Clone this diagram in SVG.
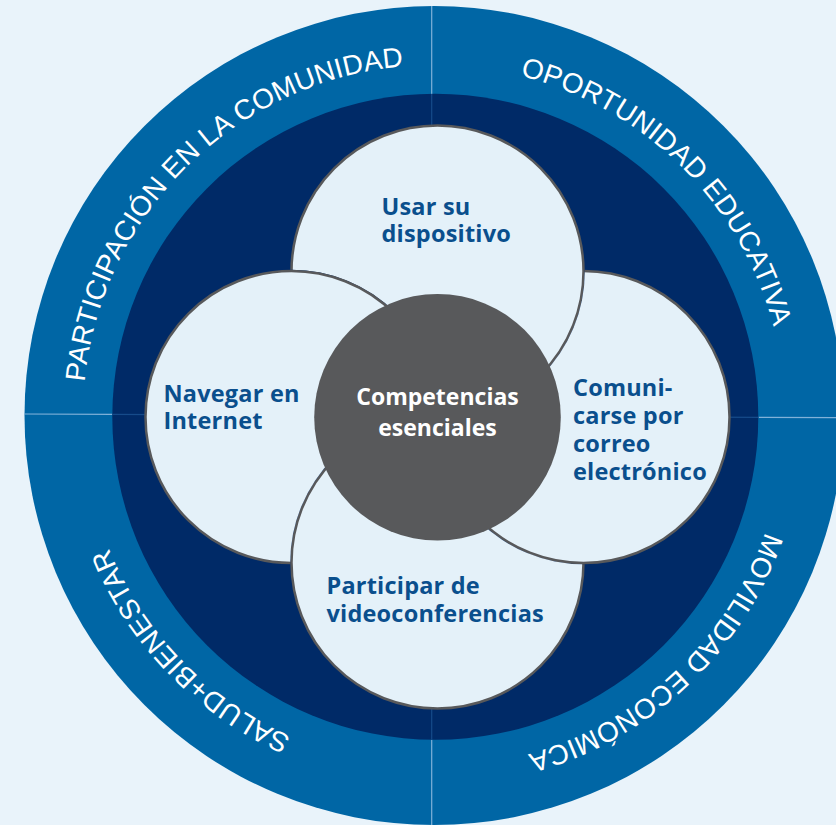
<svg xmlns="http://www.w3.org/2000/svg" xmlns:xlink="http://www.w3.org/1999/xlink" width="836" height="825" viewBox="0 0 836 825">
  <style>
    .ring-text { font-family: "Liberation Sans", Arial, sans-serif; font-size: 28px; fill: #ffffff; letter-spacing: 0.2px; }
    .petal { fill: #e4f1f9; stroke: #58595b; stroke-width: 2.5; }
    .petal-text { font-family: "Open Sans", "Liberation Sans", sans-serif; font-weight: 700; font-size: 23.5px; letter-spacing: 0.2px; fill: #0a4f8d; }
    .core-text { font-family: "Open Sans", "Liberation Sans", sans-serif; font-weight: 700; font-size: 23px; fill: #ffffff; text-anchor: middle; }
    .div-light { stroke: #80b2d9; stroke-width: 1.2; }
    .div-dark { stroke: #164b8a; stroke-width: 1.2; }
  </style>
  <defs>
    <path id="ringPath" d="M 434 65 A 351 351 0 1 1 434 767 A 351 351 0 1 1 434 65"/>
    <mask id="notL" maskUnits="userSpaceOnUse" x="0" y="0" width="836" height="825">
      <rect width="836" height="825" fill="#fff"/>
      <circle cx="291.5" cy="417" r="147.3" fill="#000"/>
    </mask>
    <mask id="notT" maskUnits="userSpaceOnUse" x="0" y="0" width="836" height="825">
      <rect width="836" height="825" fill="#fff"/>
      <circle cx="437.5" cy="271.5" r="147.3" fill="#000"/>
    </mask>
    <mask id="notR" maskUnits="userSpaceOnUse" x="0" y="0" width="836" height="825">
      <rect width="836" height="825" fill="#fff"/>
      <circle cx="583.5" cy="417" r="147.3" fill="#000"/>
    </mask>
    <mask id="notB" maskUnits="userSpaceOnUse" x="0" y="0" width="836" height="825">
      <rect width="836" height="825" fill="#fff"/>
      <circle cx="437.5" cy="562.5" r="147.3" fill="#000"/>
    </mask>
  </defs>

  <rect width="836" height="825" fill="#e9f3fa"/>

  <g id="outer-ring">
    <circle cx="434" cy="415.5" r="409.5" fill="#0066a5"/>
    <line class="div-light" x1="431.7" y1="6" x2="431.7" y2="94"/>
    <line class="div-light" x1="431.7" y1="739.5" x2="431.7" y2="825"/>
    <line class="div-light" x1="24.5" y1="414" x2="112.5" y2="414.4"/>
    <line class="div-light" x1="758.5" y1="417.3" x2="843" y2="417.7"/>
  </g>

  <g id="inner-ring">
    <circle cx="435.3" cy="416.8" r="323" fill="#002a67"/>
    <line class="div-dark" x1="431.7" y1="94" x2="431.7" y2="140"/>
    <line class="div-dark" x1="431.7" y1="700" x2="431.7" y2="739.5"/>
    <line class="div-dark" x1="112.5" y1="414.4" x2="160" y2="414.6"/>
    <line class="div-dark" x1="710" y1="417.1" x2="758.5" y2="417.3"/>
  </g>

  <g id="ring-labels">
    <text class="ring-text" text-anchor="middle"><textPath xlink:href="#ringPath" href="#ringPath" startOffset="1930.9">PARTICIPACIÓN EN LA COMUNIDAD</textPath></text>
    <text class="ring-text" text-anchor="middle"><textPath xlink:href="#ringPath" href="#ringPath" startOffset="274.1">OPORTUNIDAD EDUCATIVA</textPath></text>
    <text class="ring-text" text-anchor="middle"><textPath xlink:href="#ringPath" href="#ringPath" startOffset="838.4">MOVILIDAD ECONÓMICA</textPath></text>
    <text class="ring-text" text-anchor="middle"><textPath xlink:href="#ringPath" href="#ringPath" startOffset="1383.9">SALUD+BIENESTAR</textPath></text>
  </g>

  <g id="node-usar-dispositivo">
    <circle class="petal" cx="437.5" cy="271.5" r="146" mask="url(#notL)"/>
    <text class="petal-text"><tspan x="381.5" y="215">Usar su</tspan><tspan x="381.5" y="242">dispositivo</tspan></text>
  </g>

  <g id="node-comunicarse">
    <circle class="petal" cx="583.5" cy="417" r="146" mask="url(#notT)"/>
    <text class="petal-text"><tspan x="573" y="396">Comuni-</tspan><tspan x="573" y="424">carse por</tspan><tspan x="573" y="452">correo</tspan><tspan x="573" y="480">electrónico</tspan></text>
  </g>

  <g id="node-videoconferencias">
    <circle class="petal" cx="437.5" cy="562.5" r="146" mask="url(#notR)"/>
    <text class="petal-text"><tspan x="326.5" y="594">Participar de</tspan><tspan x="326.5" y="622">videoconferencias</tspan></text>
  </g>

  <g id="node-navegar">
    <circle class="petal" cx="291.5" cy="417" r="146" mask="url(#notB)"/>
    <text class="petal-text"><tspan x="163.5" y="402">Navegar en</tspan><tspan x="163.5" y="429">Internet</tspan></text>
  </g>

  <g id="node-competencias">
    <circle cx="437.5" cy="417.3" r="123.3" fill="#58595b"/>
    <text class="core-text"><tspan x="437.5" y="405">Competencias</tspan><tspan x="437.5" y="435.5">esenciales</tspan></text>
  </g>

  <g id="connectors"/>
</svg>
